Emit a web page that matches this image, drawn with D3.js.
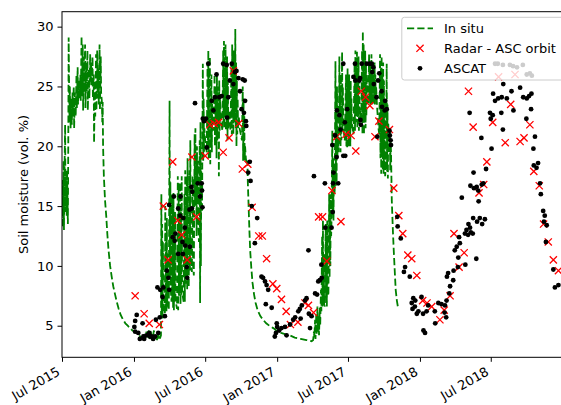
<!DOCTYPE html>
<html>
<head>
<meta charset="utf-8">
<script src="https://cdn.jsdelivr.net/npm/d3@7"></script>
<style>
  body { margin: 0; background: #fff; }
  svg { display: block; }
</style>
</head>
<body>
<div id="chart"></div>
<script>
// all series: [days since 1 Jul 2015, soil moisture vol. %]
var inSitu = [
  [0,16.5],[1,13.2],[2,17.2],[3,14.0],[4,18.8],[5,13.0],[6,17.0],[8,21.8],[9,14.5],[10,17.5],[12,14.2],[13,18.0],[15,13.5],[16,20.0],
  [17,29.1],[19,22.0],[20,25.0],[22,21.5],[23,24.0],[25,21.8],[27,24.5],[28,22.5],[30,25.0],[31,21.5],[33,24.5],[35,22.5],[37,26.0],
  [38,23.2],[40,26.6],[41,23.5],[43,25.5],[45,24.0],[47,26.0],[48,23.8],[50,29.2],[51,24.2],[53,28.5],[54,23.0],[56,27.5],[57,24.5],
  [59,28.5],[60,23.2],[62,27.0],[63,24.5],[65,28.0],[66,23.0],[68,26.5],[70,24.0],[72,27.7],[73,25.4],[75,27.0],[76,25.0],[78,27.5],
  [79,24.0],[81,26.0],[82,20.3],[84,25.5],[85,22.5],[87,27.7],[88,23.0],[90,28.0],[91,24.0],[93,26.5],[94,23.5],[96,28.5],[97,23.0],
  [99,27.5],[100,24.5],[102,23.7],[103,22.0],[104,23.7],
  [105,20.0],[107,17.5],[110,15.5],[113,14.2],[116,12.6],[119,11.3],[123,10.0],[127,9.1],[131,8.3],[135,7.7],[140,7.0],[145,6.4],
  [150,5.9],[156,5.5],[162,5.2],[168,5.0],[174,4.8],[180,4.6],[186,4.5],[190,4.4],
  [195,4.3],[200,4.1],[205,4.0],[210,4.4],[212,3.9],[216,4.5],[218,3.9],[222,4.6],[224,3.9],[228,4.3],[231,3.8],[235,4.6],[237,3.9],
  [240,4.2],[243,3.8],[246,4.5],[248,3.8],[251,4.0],
  [253,4.2],[254,16.0],[255,6.0],[256,13.5],[257,5.6],[258,12.0],[259,7.0],[261,6.4],[263,6.0],
  [264,15.0],[265,6.5],[266,12.5],[267,6.2],[268,14.0],[269,7.0],[270,11.0],[271,6.8],[273,6.3],
  [275,23.8],[276,9.0],[277,17.0],[278,8.0],[280,7.0],
  [281,16.0],[282,7.2],[283,15.5],[284,6.5],[285,16.1],[286,6.3],[287,13.0],[288,7.0],[289,14.5],[290,7.5],[292,6.8],[294,6.4],
  [296,17.5],[297,6.3],[298,16.9],[299,7.5],[300,15.0],[301,8.0],[302,17.0],[303,6.8],[304,14.5],[305,7.5],[306,17.5],[307,8.0],
  [309,7.4],[311,7.0],
  [313,16.0],[314,7.0],[315,18.0],[316,8.5],[317,15.5],[318,9.5],[319,17.5],[320,8.0],[321,19.0],[322,9.0],[324,8.3],
  [326,18.0],[327,9.6],[328,20.5],[329,11.0],[330,10.0],[332,9.5],
  [334,17.5],[335,10.0],[337,9.2],
  [339,21.0],[340,15.5],[341,21.5],[342,15.0],[343,18.8],[344,12.5],[345,20.0],[346,15.5],[347,18.8],[348,14.0],[350,12.0],
  [352,20.5],[353,6.9],[354,22.0],[355,10.0],[356,18.0],[357,15.0],[358,14.5],
  [360,26.9],[361,18.8],[362,24.0],[363,19.5],[364,21.5],[366,20.5],[368,20.0],[370,19.5],
  [372,27.0],[373,20.0],[374,28.0],[375,19.0],[376,26.5],[377,21.0],[378,27.5],[379,18.5],[380,25.0],[381,20.5],[382,26.0],
  [383,19.5],[384,24.0],[386,22.0],[388,21.3],
  [390,26.0],[391,20.0],[392,25.0],[393,21.0],[394,24.0],[395,19.0],[396,26.0],[397,20.5],[398,25.0],[399,22.0],[400,23.0],
  [401,17.5],[402,25.5],[403,21.3],[404,24.0],[406,22.5],[408,21.8],[410,21.3],
  [412,28.0],[413,22.0],[414,28.8],[415,21.5],[416,27.0],[417,22.5],[418,28.5],[419,21.3],[420,26.5],[421,22.0],[422,27.5],
  [423,20.5],[424,25.5],[425,21.5],[427,23.0],[429,22.0],[431,21.3],
  [433,27.0],[434,21.0],[435,28.5],[436,22.5],[437,26.0],[438,21.0],[439,28.0],[440,22.0],[441,27.5],[442,23.0],[443,29.8],
  [444,21.5],[445,27.0],[446,20.0],[447,25.5],[448,21.0],[449,24.0],[450,21.5],[452,22.5],[454,21.5],[457,21.0],[460,20.5],
  [462,25.0],[463,18.8],[464,24.0],[465,19.5],[466,22.5],[467,18.8],[468,20.0],[470,19.0],[472,18.5],[474,18.8],
  [475,17.0],[477,15.0],[479,13.0],[481,11.3],[484,9.8],[487,8.6],[491,7.6],[495,6.9],[500,6.3],[507,5.8],[514,5.5],[522,5.2],
  [530,5.0],[540,4.8],[548,4.6],[560,4.4],[570,4.3],[582,4.2],[595,4.0],[610,3.9],[625,3.8],[638,3.7],[642,3.8],
  [644,4.5],[645,4.0],[647,5.5],[648,3.9],[650,6.0],[651,4.2],[653,6.6],[654,4.5],[656,5.8],[657,4.2],[659,6.5],[660,5.0],
  [662,8.0],[663,6.2],
  [665,12.5],[666,6.6],[667,13.8],[668,7.0],[669,11.0],[670,6.8],[672,6.6],
  [674,13.5],[675,7.5],[676,12.0],[677,6.6],[678,13.8],[679,8.0],[681,7.5],
  [683,16.0],[684,9.0],[685,14.0],[686,10.0],[687,16.0],[688,12.5],[689,13.8],
  [691,21.3],[692,14.5],[693,19.0],[694,13.8],[695,17.5],[697,16.0],
  [699,27.1],[700,16.6],[701,22.0],[702,17.0],[703,25.0],[704,19.0],[705,21.0],[707,19.5],
  [709,27.5],[710,21.3],[711,25.0],[712,19.5],[713,26.0],[714,20.5],[716,27.9],[717,21.3],[718,25.0],[719,22.0],[721,21.0],
  [723,20.5],
  [726,26.0],[727,20.0],[728,24.8],[729,19.8],[730,26.5],[731,21.0],[732,25.5],[733,20.0],[734,26.0],[735,21.5],[736,24.5],
  [737,20.0],[738,25.5],[739,21.5],[740,24.0],[741,22.0],[743,21.5],[745,21.0],
  [748,27.0],[749,21.3],[750,28.0],[751,22.0],[752,27.0],[753,23.0],[754,27.9],[755,21.5],[756,26.5],[757,22.5],[758,27.5],
  [759,21.3],[760,26.0],[761,22.0],[763,23.0],[765,22.0],
  [767,28.0],[768,21.0],[769,29.6],[770,22.5],[771,28.5],[772,21.0],[773,27.5],[774,22.0],[775,28.0],[776,21.5],[777,27.0],
  [778,22.5],[779,26.0],[781,24.0],[783,23.5],
  [785,27.7],[786,24.0],[787,27.0],[788,23.5],[789,26.5],[790,24.0],[791,27.7],[792,23.5],[793,26.0],[794,24.0],[795,27.0],
  [796,23.5],[797,25.5],[798,24.0],[799,27.0],[800,23.5],[801,26.0],[802,24.0],[803,25.0],[805,23.5],[807,22.5],[809,21.5],
  [811,21.0],
  [813,27.7],[814,19.0],[815,26.5],[816,17.7],[817,27.5],[818,19.5],[819,26.0],[820,18.0],[821,27.0],[822,17.7],[823,25.5],
  [824,18.5],[825,24.0],[826,17.5],[828,18.5],
  [830,26.9],[831,17.9],[832,23.5],[833,17.3],[834,22.0],[836,19.5],
  [838,21.3],[839,18.0],[840,20.5],[841,19.6],
  [843,15.5],[846,12.8],[848,11.3],[851,9.3],[853,8.0],[856,7.1],[859,6.5]
];

var radar = [
  [187,7.5],[210,6.0],[223,5.2],[249,5.1],[259,15.0],[271,10.5],[283,18.7],[296,13.8],[306,12.6],[320,10.5],[332,19.1],[344,14.1],
  [366,19.2],[378,21.8],[389,21.9],[400,22.0],[412,19.5],[427,20.7],[438,26.3],[452,21.9],[461,18.1],[475,18.5],[486,14.9],[503,12.5],
  [512,12.5],[523,10.6],[539,8.5],[549,8.1],[561,7.2],[573,6.2],[584,5.1],[603,5.3],[621,6.9],[630,6.7],[643,6.1],[656,14.1],
  [666,14.1],[677,10.4],[690,16.3],[702,20.8],[713,13.7],[726,21.0],[739,20.9],[751,19.6],[765,24.6],[776,24.1],[787,23.4],[800,20.8],
  [810,22.1],[837,21.4],[848,16.5],[861,14.2],[871,12.7],[884,10.9],[894,10.6],[907,9.2],[922,7.1],[933,6.9],[945,6.6],[966,5.5],
  [977,6.3],[992,7.5],[1002,12.7],[1015,9.9],[1028,11.1],[1039,24.6],[1051,21.6],[1066,16.1],[1078,16.8],[1086,18.7],[1101,22.0],
  [1116,25.8],[1133,20.3],[1147,23.5],[1158,26.0],[1171,20.4],[1181,20.7],[1196,21.8],[1206,17.9],[1220,16.7],[1231,13.5],[1243,12.0],
  [1256,10.5],[1269,9.6]
];

var ascat = [
  [185,4.9],[187,5.4],[187,4.5],[191,5.9],[195,4.4],[199,3.9],[206,5.2],[208,4.1],[210,3.9],[216,4.2],[223,4.4],[225,4.1],[229,4.1],
  [233,3.9],[238,4.1],[240,5.5],[244,8.2],[246,4.4],[250,5.7],[251,8.0],[257,7.4],
  [259,8.2],[263,5.8],[268,9.6],[272,9.0],[274,8.0],[274,15.1],[283,12.4],[286,15.8],[288,12.1],[290,12.7],[297,14.8],[297,11.0],
  [302,14.2],[303,15.8],[308,12.0],[309,11.0],[310,14.0],[314,13.2],[315,11.7],[319,9.9],[320,9.0],[326,14.7],[327,11.6],[331,16.6],
  [332,14.8],[333,16.2],[340,23.6],[347,16.9],[353,15.8],[357,16.9],[358,16.3],[359,14.9],
  [360,22.3],[363,22.1],[368,22.3],[370,19.9],[374,26.9],[383,23.8],[387,23.0],[391,24.1],[395,26.0],[402,24.1],[408,24.2],[412,26.9],
  [421,26.8],[422,22.4],[425,24.1],[429,25.5],[434,26.9],[438,25.2],[442,26.2],[446,26.3],[451,25.7],[455,24.6],[459,23.1],[462,25.6],
  [465,22.8],[467,25.5],[468,23.8],[470,22.1],[471,21.7],[476,17.8],[480,18.7],[482,17.1],
  [485,15.0],[493,11.9],[499,14.0],[510,9.1],[514,9.0],[519,8.7],[521,6.8],[523,8.4],[527,8.0],[536,6.5],[544,4.1],[547,4.4],[549,5.2],
  [550,4.9],[555,4.6],[561,4.8],[570,4.9],[574,4.2],[583,5.1],[591,5.5],[596,5.7],[604,6.2],[608,6.4],[610,5.6],[613,6.7],[621,7.1],
  [625,7.3],[630,11.3],[631,6.0],[634,4.8],[638,5.8],[644,17.5],[647,7.7],[652,7.6],[655,8.7],[659,8.8],[663,10.1],[664,9.0],
  [672,16.9],[673,13.2],[689,13.2],[692,14.5],[693,16.9],
  [691,20.1],[694,17.8],[698,20.9],[702,19.1],[703,23.0],[706,16.9],[709,22.6],[712,21.4],[719,26.9],[719,19.2],[723,22.0],[724,19.2],
  [729,23.1],[745,25.8],[749,26.9],[750,25.5],[760,25.5],[762,25.7],[763,22.2],[764,21.8],[766,26.9],[779,26.9],[787,26.9],[792,26.9],
  [793,26.2],[796,26.6],[797,25.2],[804,24.1],[806,20.8],[808,25.5],[811,26.1],[817,24.6],[818,23.3],[825,23.0],[826,23.8],[830,23.1],
  [837,21.3],[838,20.9],[840,20.5],[841,20.1],
  [857,14.1],[858,13.3],[866,12.3],[874,9.5],[877,9.9],[889,9.1],[894,6.9],[896,6.4],[898,7.3],[902,6.6],[903,7.1],[907,6.0],[911,6.2],
  [919,7.4],[923,6.0],[924,4.6],[928,4.4],[932,6.2],[936,6.7],[953,6.2],[954,5.2],[962,6.9],[970,6.8],[978,6.1],[979,6.7],[982,5.7],
  [983,7.1],[984,9.1],[987,9.4],[990,7.7],[992,8.3],[1000,8.8],[1001,9.6],[1004,11.3],[1009,11.6],[1012,9.9],[1013,10.7],[1015,12.4],
  [1017,11.9],[1022,15.7],[1030,12.7],[1031,10.1],[1034,13.0],[1038,12.6],[1039,13.5],[1043,13.2],
  [1042,22.8],[1044,16.7],[1045,12.8],[1050,12.7],[1051,14.0],[1052,17.8],[1053,16.5],[1059,10.6],[1060,16.6],[1061,13.7],[1064,16.3],
  [1065,15.4],[1068,14.0],[1072,20.7],[1073,16.8],[1074,13.5],[1077,16.9],[1081,13.9],[1084,18.1],[1094,22.8],[1096,22.3],[1098,19.8],
  [1101,22.6],[1102,24.4],[1107,23.8],[1115,24.0],[1123,22.8],[1124,24.1],[1127,21.4],[1128,25.2],[1137,24.0],[1149,24.6],[1154,23.0],
  [1171,24.9],[1179,24.1],[1187,22.3],[1188,24.0],[1194,24.2],[1199,23.1],[1200,24.4],[1205,19.8],[1206,18.4],[1209,20.8],[1213,18.2],
  [1217,18.6],[1222,16.9],[1224,16.0],[1230,14.6],[1232,13.7],[1234,14.2],[1237,12.0],[1239,13.4],[1256,9.7],[1260,8.2],[1269,8.4],
  [1107,26.9],[1114,26.9],[1127,26.8],[1145,26.8],[1153,26.7],[1163,26.6],[1178,26.8],[1188,26.0],[1196,26.1],[1201,25.9]
];

var xTickDates = ['2015-07-01', '2016-01-01', '2016-07-01', '2017-01-01', '2017-07-01', '2018-01-01', '2018-07-01'];
var xTickLabels = ['Jul 2015', 'Jan 2016', 'Jul 2016', 'Jan 2017', 'Jul 2017', 'Jan 2018', 'Jul 2018'];
var yTicks = [5, 10, 15, 20, 25, 30];
var legendLabels = ['In situ', 'Radar - ASC orbit', 'ASCAT'];

(function() {
  var FONT = '"DejaVu Sans", sans-serif';
  var GREEN = '#008000', RED = '#ff0000';
  var w = 561, h = 405;
  var left = 62, right = 569, top = 11.7, bottom = 357.3;

  var t0 = Date.UTC(2015, 6, 1);
  function day(d) { return new Date(t0 + d * 864e5); }

  var svg = d3.select('#chart').append('svg').attr('width', w).attr('height', h);

  var x = d3.scaleUtc().domain([day(0), day(1296)]).range([left, right]);
  var y = d3.scaleLinear().domain([2.36, 31.25]).range([bottom, top]);

  svg.append('clipPath').attr('id', 'clip')
    .append('rect').attr('x', left).attr('y', top).attr('width', right - left).attr('height', bottom - top);

  var plot = svg.append('g').attr('clip-path', 'url(#clip)');

  // In situ dashed line
  var line = d3.line().x(function(d) { return x(day(d[0])); }).y(function(d) { return y(d[1]); });
  plot.append('path').datum(inSitu)
    .attr('d', line).attr('fill', 'none').attr('stroke', GREEN)
    .attr('stroke-width', 1.8).attr('stroke-dasharray', '7.2,3.1');

  // Radar crosses
  var cross = 'M-3.6,-3.6L3.6,3.6M-3.6,3.6L3.6,-3.6';
  plot.append('g').selectAll('path').data(radar).join('path')
    .attr('transform', function(d) { return 'translate(' + x(day(d[0])) + ',' + y(d[1]) + ')'; })
    .attr('d', cross).attr('stroke', RED).attr('stroke-width', 1.3).attr('fill', 'none');

  // ASCAT dots
  plot.append('g').selectAll('circle').data(ascat).join('circle')
    .attr('cx', function(d) { return x(day(d[0])); })
    .attr('cy', function(d) { return y(d[1]); })
    .attr('r', 2.4).attr('fill', '#000');

  // Axes
  var xAxis = svg.append('g').attr('transform', 'translate(0,' + bottom + ')')
    .call(d3.axisBottom(x)
      .tickValues(xTickDates.map(function(s) { return new Date(s + 'T00:00:00Z'); }))
      .tickFormat(function(d, i) { return xTickLabels[i]; })
      .tickSize(4.5).tickSizeOuter(0));
  xAxis.select('.domain').remove();
  xAxis.selectAll('.tick line').attr('stroke', '#000').attr('stroke-width', 1);
  xAxis.selectAll('.tick text')
    .attr('fill', '#000').attr('font-size', '13px').attr('font-family', FONT)
    .attr('text-anchor', 'end').attr('x', 0).attr('y', 0).attr('dy', 0)
    .attr('transform', 'translate(-1.5,17) rotate(-30)');

  var yAxis = svg.append('g').attr('transform', 'translate(' + left + ',0)')
    .call(d3.axisLeft(y).tickValues(yTicks).tickSize(4.5).tickPadding(4).tickSizeOuter(0));
  yAxis.select('.domain').remove();
  yAxis.selectAll('.tick line').attr('stroke', '#000').attr('stroke-width', 1);
  yAxis.selectAll('.tick text').attr('fill', '#000').attr('font-size', '13px').attr('font-family', FONT);

  // Frame
  svg.append('rect').attr('x', left).attr('y', top).attr('width', right - left).attr('height', bottom - top)
    .attr('fill', 'none').attr('stroke', '#000').attr('stroke-width', 1);

  // Y label
  svg.append('text').attr('transform', 'translate(28,' + ((top + bottom) / 2) + ') rotate(-90)')
    .attr('text-anchor', 'middle').attr('fill', '#000').attr('font-size', '13px').attr('font-family', FONT)
    .text('Soil moisture (vol. %)');

  // Legend
  var lg = svg.append('g');
  lg.append('rect').attr('x', 401.8).attr('y', 17.3).attr('width', 175).attr('height', 62.7).attr('rx', 2.6)
    .attr('fill', '#fff').attr('fill-opacity', 0.8).attr('stroke', '#cccccc').attr('stroke-width', 1);
  legendLabels.forEach(function(lab, i) {
    var cy = 28.3 + i * 20;
    if (i === 0) {
      lg.append('line').attr('x1', 407).attr('x2', 433).attr('y1', cy).attr('y2', cy)
        .attr('stroke', GREEN).attr('stroke-width', 1.8).attr('stroke-dasharray', '7.2,3.1');
    } else if (i === 1) {
      lg.append('path').attr('transform', 'translate(420,' + cy + ')').attr('d', cross)
        .attr('stroke', RED).attr('stroke-width', 1.3).attr('fill', 'none');
    } else {
      lg.append('circle').attr('cx', 420).attr('cy', cy).attr('r', 2.4).attr('fill', '#000');
    }
    lg.append('text').attr('x', 444).attr('y', cy + 4.7)
      .attr('fill', '#000').attr('font-size', '13px').attr('font-family', FONT).text(lab);
  });
})();
</script>
</body>
</html>
